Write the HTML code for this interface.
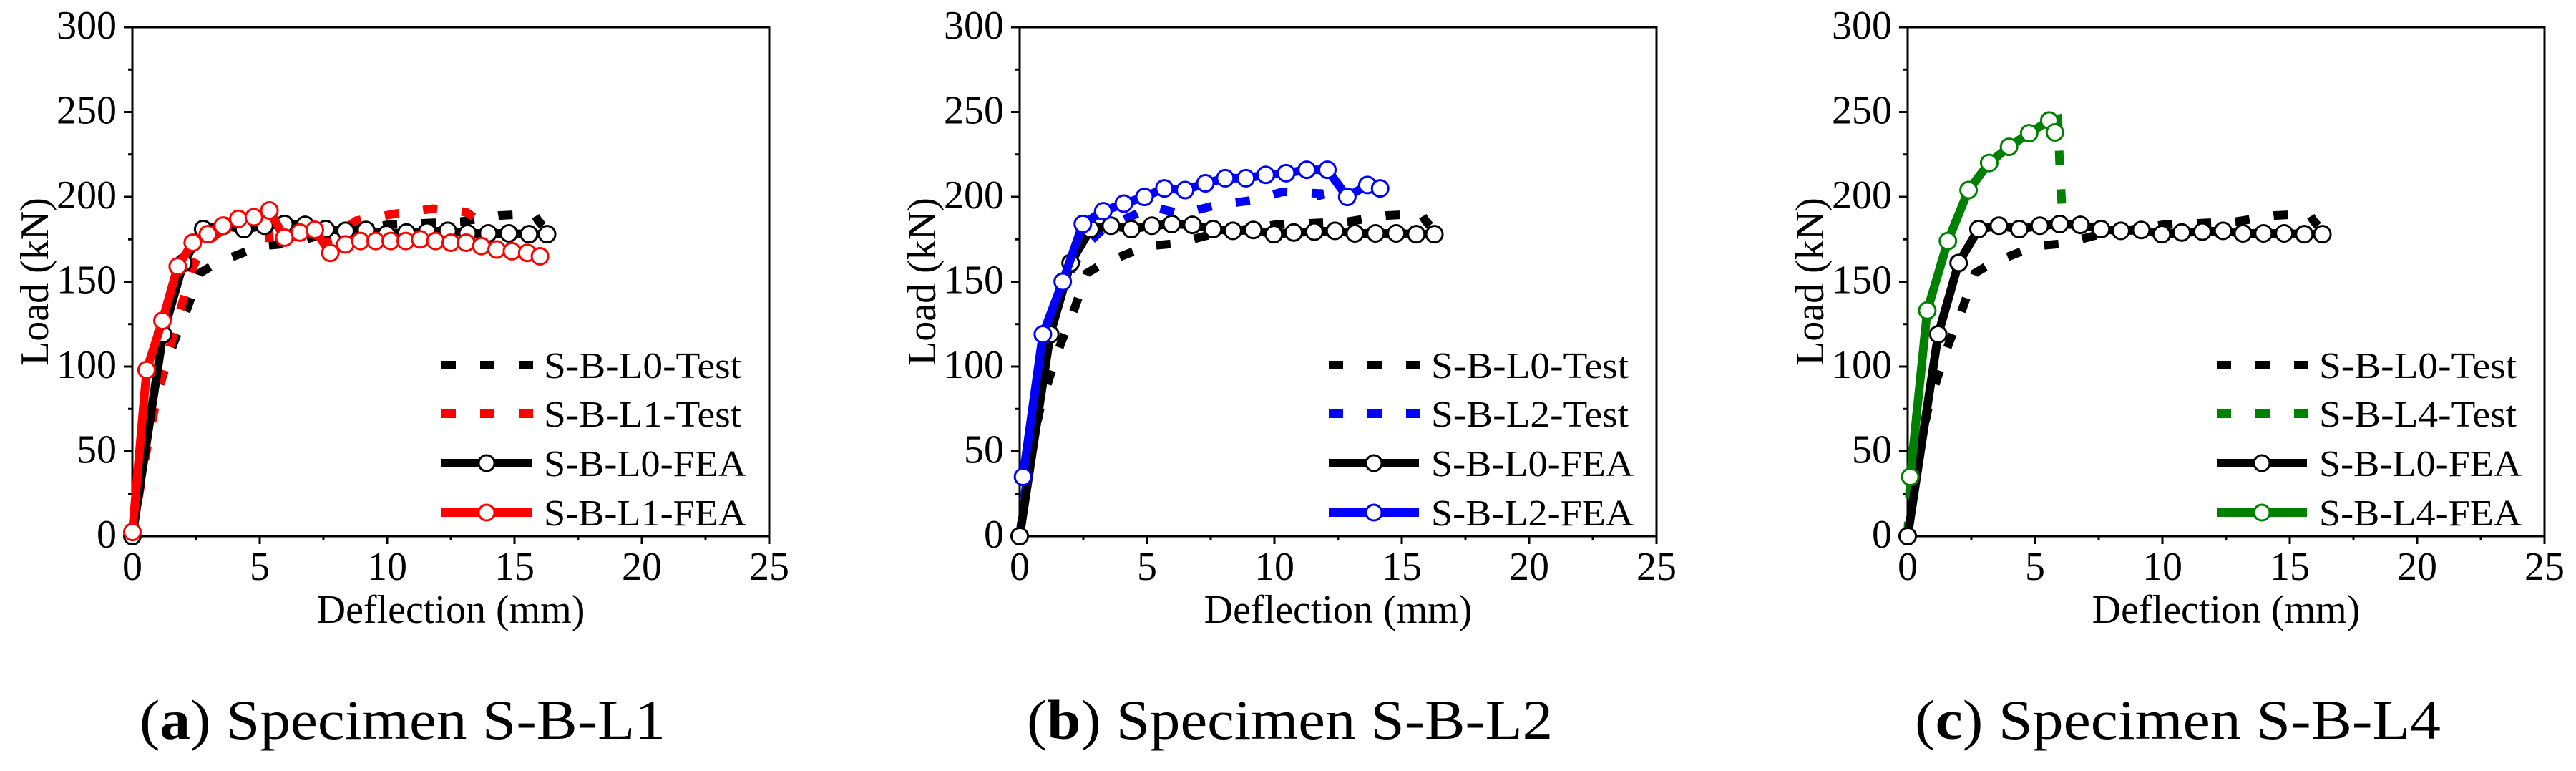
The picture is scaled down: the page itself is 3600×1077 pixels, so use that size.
<!DOCTYPE html>
<html><head><meta charset="utf-8"><style>
html,body{margin:0;padding:0;background:#fff;}
svg{display:block;font-family:"Liberation Serif","Times New Roman",serif;}
</style></head><body>
<svg id="fig" width="3600" height="1077" viewBox="0 0 3600 1077" xmlns="http://www.w3.org/2000/svg"></svg>
<script>
// ---- shared axis data ----
const xTicks = [0,5,10,15,20,25];
const yTicks = [0,50,100,150,200,250,300];
// ---- S-B-L0 reference (same in all panels) ----
const l0TestX = [0,0.2,0.43,0.8,1.18,1.6,2.15,2.64,3.2,3.82,4.5,5.06,6.19,7.3,8.5,10,11.68,12.9,14.37,15.77,15.93,16.1];
const l0TestY = [0,22,49,75,94,113,134,155,160,164,168,171,172.6,177,180,183.5,184.6,185.4,189,190,186,183];
const l0FeaX = [0,1.2,2.0,2.78,3.58,4.38,5.19,5.97,6.78,7.59,8.37,9.17,9.98,10.76,11.57,12.38,13.16,13.97,14.78,15.57,16.28];
const l0FeaY = [0,119,161,181,183,181,183,184,183.5,181,180,180.5,178,179,179.5,180,178.5,178.5,178.5,178,178];
// ---- panel (a) S-B-L1 ----
const l1TestX = [0,0.3,0.55,1.0,1.5,1.9,2.3,2.8,3.5,4.5,5.3,5.4,6.0,7.0,7.5,7.7,8.2,8.8,10.3,11.8,13.1,13.4];
const l1TestY = [0,28,50,85,113,134,156,172,180,186,190,172,175,180,181,172,180,186,190,193,191,188];
const l1FeaX = [0,0.56,1.18,1.78,2.37,2.96,3.55,4.16,4.77,5.38,5.97,6.57,7.16,7.77,8.36,8.95,9.55,10.14,10.73,11.3,11.9,12.5,13.1,13.7,14.3,14.9,15.5,16.0];
const l1FeaY = [2.5,98,127,159,173,178,183,187,188,192,176,179,180.6,167,172,174,174,174,174,175,174,173,173,171,169,168,167,165];
// ---- panel (b) S-B-L2 ----
const l2TestX = [0,0.2,0.6,1.2,1.8,2.5,3.2,3.98,5.22,6.35,7.7,9.15,10.33,11.78,12.05];
const l2TestY = [0,24,70,120,150,170,180,186,194,190,195,198,203,202,186];
const l2FeaX = [0.13,0.91,1.69,2.48,3.28,4.09,4.9,5.68,6.49,7.29,8.07,8.88,9.66,10.46,11.27,12.08,12.86,13.65,14.15];
const l2FeaY = [35,119,150,184,191.5,196,200,205,204,208,211,211,213,214,216,216,200,207,205];
// ---- panel (c) S-B-L4 ----
const l4TestX = [0,0.1,0.77,1.58,2.39,3.2,3.98,4.77,5.56,5.9,5.97,6.05,6.05];
const l4TestY = [0,35,133,174,204,220,229.5,237.5,245,246,218,196,185];
const l4FeaX = [0.1,0.77,1.58,2.39,3.2,3.98,4.77,5.56,5.78];
const l4FeaY = [35,133,174,204,220,229.5,237.5,245,238];

const panels = [
 {ox:185, key:'a', spec:'S-B-L1', color:'#ff0000', tX:l1TestX, tY:l1TestY, fX:l1FeaX, fY:l1FeaY, lt:'S-B-L1-Test', lf:'S-B-L1-FEA'},
 {ox:1425, key:'b', spec:'S-B-L2', color:'#0000ff', tX:l2TestX, tY:l2TestY, fX:l2FeaX, fY:l2FeaY, lt:'S-B-L2-Test', lf:'S-B-L2-FEA'},
 {ox:2666, key:'c', spec:'S-B-L4', color:'#008000', tX:l4TestX, tY:l4TestY, fX:l4FeaX, fY:l4FeaY, lt:'S-B-L4-Test', lf:'S-B-L4-FEA'}
];
const NS='http://www.w3.org/2000/svg';
const svg=document.getElementById('fig');
const TOP=38, BOT=749, W=890;
function mk(tag, parent, attrs){const e=document.createElementNS(NS,tag);for(const k in attrs)e.setAttribute(k,attrs[k]);parent.appendChild(e);return e;}

panels.forEach(p=>{
  const g=mk('g',svg,{});
  
  
  const sx=v=>p.ox+v/25*W;
  const sy=v=>BOT-v/300*(BOT-TOP);
  const fr=mk('rect',g,{x:p.ox,y:TOP,width:W,height:BOT-TOP,fill:'none',stroke:'#000','stroke-width':3});
  
  
  yTicks.forEach((t,i)=>{
    const y=sy(t);
    mk('line',g,{x1:p.ox-12,x2:p.ox,y1:y,y2:y,stroke:'#000','stroke-width':3});
    if(i<yTicks.length-1){const ym=sy(t+25);mk('line',g,{x1:p.ox-6,x2:p.ox,y1:ym,y2:ym,stroke:'#000','stroke-width':3});}
    const tx=mk('text',g,{x:p.ox-22,y:y+16,'text-anchor':'end','font-size':56});
    tx.textContent=t;
    
    
  });
  xTicks.forEach((t,i)=>{
    const x=sx(t);
    mk('line',g,{x1:x,x2:x,y1:BOT,y2:BOT+11,stroke:'#000','stroke-width':3});
    if(i<xTicks.length-1){const xm=sx(t+2.5);mk('line',g,{x1:xm,x2:xm,y1:BOT,y2:BOT+6,stroke:'#000','stroke-width':3});}
    const tx=mk('text',g,{x:x,y:810,'text-anchor':'middle','font-size':56});
    tx.textContent=t;
    
    
  });
  const yl=mk('text',g,{x:0,y:0,'text-anchor':'middle','font-size':56,transform:`translate(${p.ox-118},${(TOP+BOT)/2}) rotate(-90)`});
  yl.textContent='Load (kN)';
  
  
  const xl=mk('text',g,{x:p.ox+W/2,y:870,'text-anchor':'middle','font-size':56});
  xl.textContent='Deflection (mm)';
  
  
  const cap=mk('text',g,{x:p.ox+10,y:1032,'font-size':78,textLength:735,lengthAdjust:'spacingAndGlyphs'});
  cap.innerHTML='(<tspan font-weight="bold">'+p.key+'</tspan>) Specimen '+p.spec;
  
  
  const pts=(X,Y)=>X.map((x,i)=>sx(x).toFixed(1)+','+sy(Y[i]).toFixed(1)).join(' ');
  const s1=mk('polyline',g,{points:pts(l0TestX,l0TestY),fill:'none',stroke:'#000','stroke-width':12,'stroke-dasharray':'20 34'});
  
  
  const s2=mk('polyline',g,{points:pts(p.tX,p.tY),fill:'none',stroke:p.color,'stroke-width':12,'stroke-dasharray':'20 34'});
  
  
  const s3=mk('polyline',g,{points:pts(l0FeaX,l0FeaY),fill:'none',stroke:'#000','stroke-width':12,'stroke-linejoin':'round'});
  
  
  l0FeaX.forEach((x,i)=>{
    const c=mk('circle',g,{cx:sx(x),cy:sy(l0FeaY[i]),r:11.5,fill:'#fff',stroke:'#000','stroke-width':3});
    
    
  });
  const s4=mk('polyline',g,{points:pts(p.fX,p.fY),fill:'none',stroke:p.color,'stroke-width':12,'stroke-linejoin':'round'});
  
  
  p.fX.forEach((x,i)=>{
    const c=mk('circle',g,{cx:sx(x),cy:sy(p.fY[i]),r:11.5,fill:'#fff',stroke:p.color,'stroke-width':3});
    
    
  });
  const lg=mk('g',g,{});
  
  
  const rows=[
    {t:'S-B-L0-Test',c:'#000',dash:true},
    {t:p.lt,c:p.color,dash:true},
    {t:'S-B-L0-FEA',c:'#000',dash:false},
    {t:p.lf,c:p.color,dash:false}];
  const ly=[510,578,647,716];
  rows.forEach((r,i)=>{
    const y=ly[i], x0=p.ox+432, x1=p.ox+563;
    if(r.dash){
      mk('line',lg,{x1:x0,x2:x1,y1:y,y2:y,stroke:r.c,'stroke-width':12,'stroke-dasharray':'20 34'});
    }else{
      mk('line',lg,{x1:x0,x2:x1-5,y1:y,y2:y,stroke:r.c,'stroke-width':12});
      mk('circle',lg,{cx:(x0+x1-5)/2,cy:y,r:11,fill:'#fff',stroke:r.c,'stroke-width':3});
    }
    const tx=mk('text',lg,{x:p.ox+575,y:y+18,'font-size':52,textLength:r.dash?276:283,lengthAdjust:'spacingAndGlyphs'});
    tx.textContent=r.t;
    
    
  });
});
</script>
</body></html>
